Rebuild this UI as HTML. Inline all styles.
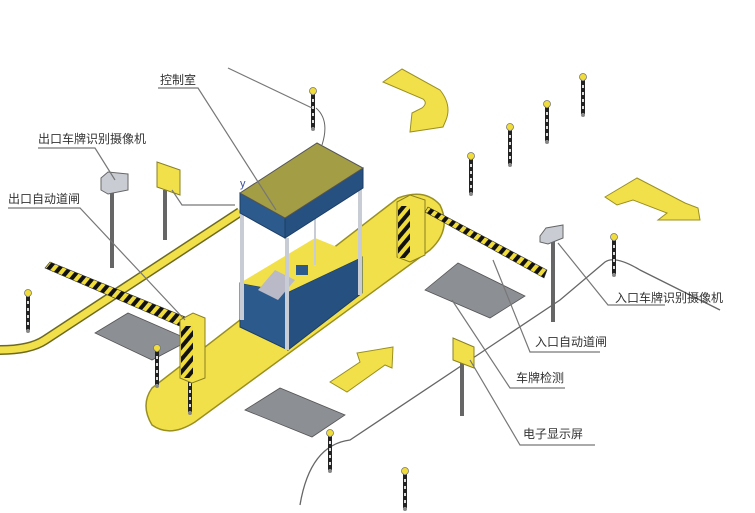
<!DOCTYPE html>
<html><head><meta charset="utf-8"><style>
html,body{margin:0;padding:0;background:#fff;}
svg{display:block}
text{font-family:"Liberation Sans","Noto Sans CJK SC",sans-serif;font-size:12px;fill:#333}
</style></head><body>
<svg width="755" height="513" viewBox="0 0 755 513" xmlns="http://www.w3.org/2000/svg">
<defs>
<pattern id="st" width="8" height="8" patternUnits="userSpaceOnUse" patternTransform="rotate(40)">
<rect width="8" height="8" fill="#f0dc3a"/><rect width="4" height="8" fill="#111"/></pattern>
<g id="bol"><line x1="0" y1="4" x2="0" y2="40" stroke="#222" stroke-width="4"/><line x1="0" y1="4" x2="0" y2="40" stroke="#ddd" stroke-width="2" stroke-dasharray="3 4"/><circle cx="0" cy="3" r="3.5" fill="#f0dc3a" stroke="#777" stroke-width="0.8"/><circle cx="0" cy="41" r="2" fill="#888"/></g>
</defs>
<!-- road stripes -->
<path d="M0,350 Q30,350 45,340 L240,212" fill="none" stroke="#6d6a20" stroke-width="10"/>
<path d="M0,350 Q30,350 45,340 L240,212" fill="none" stroke="#f2e04a" stroke-width="7"/>
<!-- grey lines (ground) -->
<path d="M300,505 Q310,445 350,440 L470,360 L560,300 L605,262 Q615,255 640,270 L720,310" fill="none" stroke="#666" stroke-width="1.3"/>
<!-- island -->
<path d="M152,388 L398,198 Q425,188 440,205 Q452,230 430,250 L195,422 Q170,438 152,425 Q140,405 152,388 Z" fill="#f2e04a" stroke="#9a9020" stroke-width="1.5"/>
<!-- pads -->
<polygon points="95,333 128,313 190,340 152,360" fill="#8c8f94" stroke="#555" stroke-width="0.8"/>
<polygon points="425,290 458,263 525,296 490,318" fill="#8c8f94" stroke="#555" stroke-width="0.8"/>
<polygon points="245,410 280,388 345,415 312,437" fill="#8c8f94" stroke="#555" stroke-width="0.8"/>
<!-- arrows -->
<path d="M383,82 L402,69 L440,90 Q452,105 446,120 L443,127 L410,132 L412,113 L422,108 Q428,103 423,99 Z" fill="#f2e04a" stroke="#9a9020"/>
<path d="M605,197 L637,178 L685,203 L698,208 L700,220 L658,220 L667,213 L633,200 L617,205 Z" fill="#f2e04a" stroke="#9a9020"/>
<path d="M330,382 L360,362 L357,353 L393,347 L392,368 L385,365 L347,392 Z" fill="#f2e04a" stroke="#9a9020"/>
<!-- bollards -->
<use href="#bol" x="313" y="88"/><use href="#bol" x="471" y="153"/><use href="#bol" x="510" y="124"/>
<use href="#bol" x="547" y="101"/><use href="#bol" x="583" y="74"/><use href="#bol" x="614" y="234"/>
<use href="#bol" x="28" y="290"/><use href="#bol" x="157" y="345"/><use href="#bol" x="190" y="372"/>
<use href="#bol" x="330" y="430"/><use href="#bol" x="405" y="468"/>
<path d="M316,108 Q330,120 322,145" fill="none" stroke="#666" stroke-width="1"/>
<!-- booth -->
<polygon points="240,210 313,160 360,185 288,235" fill="#f2e04a"/>
<polygon points="240,283 288,292 288,350 240,327" fill="#2d5a8c" stroke="#1c3d63"/>
<polygon points="288,292 362,257 362,293 288,350" fill="#25507f" stroke="#1c3d63"/>
<polygon points="240,283 315,238 362,257 288,292" fill="#f2e04a"/>
<polygon points="258,290 275,270 295,280 278,300" fill="#b9b9c8"/>
<rect x="296" y="265" width="12" height="10" fill="#2d5a8c"/>
<g stroke="#c8ccd4" stroke-width="4"><line x1="242" y1="213" x2="242" y2="320"/><line x1="287" y1="238" x2="287" y2="350"/><line x1="360" y1="188" x2="360" y2="295"/></g>
<line x1="315" y1="195" x2="315" y2="265" stroke="#c8ccd4" stroke-width="2"/>
<polygon points="240,193 285,218 285,238 240,213" fill="#2d5a8c" stroke="#1c3d63"/>
<polygon points="285,218 363,168 363,188 285,238" fill="#25507f" stroke="#1c3d63"/>
<polygon points="240,193 317,143 363,168 285,218" fill="#a39d45" stroke="#555"/>
<text x="240" y="187" style="fill:#3a4fa0;font-size:11px">y</text>
<!-- gates -->
<polygon points="45,268 50,262 188,318 184,328" fill="url(#st)" stroke="#333" stroke-width="0.6"/>
<polygon points="180,320 193,313 205,318 205,378 192,383 180,378" fill="#f2e04a" stroke="#8a8020"/>
<rect x="181" y="326" width="12" height="52" fill="url(#st)"/>
<polygon points="397,202 410,195 425,200 425,255 410,262 397,257" fill="#f2e04a" stroke="#8a8020"/>
<rect x="398" y="206" width="12" height="52" fill="url(#st)"/>
<polygon points="425,212 428,207 547,270 544,278" fill="url(#st)" stroke="#333" stroke-width="0.6"/>
<!-- cameras / screens -->
<line x1="112" y1="190" x2="112" y2="268" stroke="#666" stroke-width="4"/>
<polygon points="101,178 108,172 128,174 128,190 108,194 101,190" fill="#c9cdd3" stroke="#666"/>
<line x1="553" y1="240" x2="553" y2="322" stroke="#666" stroke-width="4"/>
<polygon points="540,236 546,228 563,225 563,238 548,244 540,242" fill="#c9cdd3" stroke="#666"/>
<line x1="165" y1="190" x2="165" y2="240" stroke="#666" stroke-width="4"/>
<polygon points="157,162 180,170 180,195 157,187" fill="#f2e04a" stroke="#8a8020"/>
<line x1="462" y1="355" x2="462" y2="416" stroke="#666" stroke-width="4"/>
<polygon points="453,338 474,347 474,368 453,360" fill="#f2e04a" stroke="#8a8020"/>
<!-- leader lines -->
<g fill="none" stroke="#777" stroke-width="1.2">
<polyline points="158,88 198,88 276,210"/>
<polyline points="38,148 95,148 115,180"/>
<polyline points="8,208 80,208 185,320"/>
<polyline points="172,190 182,205 235,205"/>
<line x1="228" y1="68" x2="312" y2="108"/>
<polyline points="558,243 608,305 665,305"/>
<polyline points="493,260 530,352 600,352"/>
<polyline points="452,300 510,388 565,388"/>
<polyline points="470,360 520,445 595,445"/>
</g>
<!-- labels -->
<text x="160" y="84">控制室</text>
<text x="38" y="143">出口车牌识别摄像机</text>
<text x="8" y="203">出口自动道闸</text>
<text x="615" y="302">入口车牌识别摄像机</text>
<text x="535" y="346">入口自动道闸</text>
<text x="516" y="382">车牌检测</text>
<text x="523" y="438">电子显示屏</text>
</svg>
</body></html>
